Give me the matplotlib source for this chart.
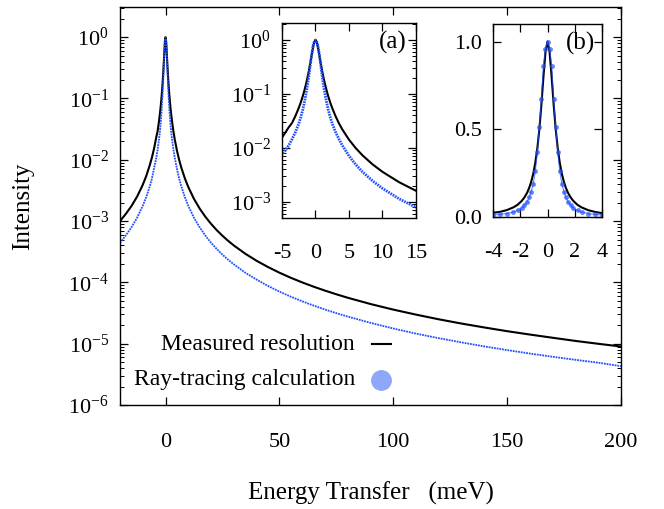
import matplotlib.pyplot as plt
from matplotlib.ticker import LogLocator, NullLocator, FixedLocator

plt.rcParams['font.family'] = ['Liberation Serif', 'DejaVu Serif']
plt.rcParams['mathtext.fontset'] = 'custom'
plt.rcParams['mathtext.rm'] = 'Liberation Serif'
plt.rcParams['mathtext.it'] = 'Liberation Serif:italic'
plt.rcParams['axes.unicode_minus'] = False

# energy transfer (meV)
energy = [-20, -17.5, -15, -12.5, -10, -8.5, -7, -6, -5, -4, -3.5, -3, -2.5,
          -2.2, -1.9, -1.7, -1.5, -1.35, -1.2, -1.05, -0.9, -0.75, -0.6,
          -0.45, -0.3, -0.15, 0, 0.15, 0.3, 0.45, 0.6, 0.75, 0.9, 1.05, 1.2,
          1.35, 1.5, 1.7, 1.9, 2.2, 2.5, 3, 3.5, 4, 5, 6, 7, 8.5, 10, 12.5,
          15, 17.5, 20, 22.5, 25, 27.5, 30, 35, 40, 45, 50, 55, 60, 65, 70,
          75, 80, 90, 100, 110, 120, 130, 140, 150, 160, 170, 180, 190, 200]

# measured resolution (black line)
measured = [1.0e-3, 1.3e-3, 1.75e-3, 2.5e-3, 3.9e-3, 5.4e-3, 8.0e-3, 1.08e-2,
            1.55e-2, 2.4e-2, 2.9e-2, 3.9e-2, 5.5e-2, 0.0695, 0.091, 0.111,
            0.138, 0.165, 0.200, 0.246, 0.308, 0.390, 0.500, 0.640, 0.800,
            0.941, 1.0, 0.941, 0.800, 0.640, 0.500, 0.390, 0.308, 0.246,
            0.200, 0.165, 0.138, 0.111, 0.0907, 0.0692, 0.0545, 0.0385,
            0.0285, 0.0220, 0.0142, 9.9e-3, 7.3e-3, 4.96e-3, 3.59e-3, 2.3e-3,
            1.6e-3, 1.175e-3, 9.0e-4, 7.11e-4, 5.76e-4, 4.76e-4, 4.0e-4,
            2.94e-4, 2.25e-4, 1.78e-4, 1.44e-4, 1.19e-4, 1.0e-4, 8.52e-5,
            7.35e-5, 6.4e-5, 5.62e-5, 4.44e-5, 3.6e-5, 2.98e-5, 2.5e-5,
            2.13e-5, 1.84e-5, 1.6e-5, 1.41e-5, 1.25e-5, 1.11e-5, 9.97e-6,
            9.0e-6]

# ray-tracing calculation (blue points)
raytrace = [4.4e-4, 5.8e-4, 7.9e-4, 1.13e-3, 1.77e-3, 2.45e-3, 3.6e-3,
            4.9e-3, 7.4e-3, 1.11e-2, 1.45e-2, 1.96e-2, 2.8e-2, 0.037, 0.051,
            0.066, 0.088, 0.112, 0.145, 0.19, 0.26, 0.37, 0.51, 0.67, 0.86,
            0.96, 1.0, 0.96, 0.86, 0.67, 0.51, 0.37, 0.26, 0.19, 0.145, 0.112,
            0.088, 0.066, 0.051, 0.037, 0.028, 0.0196, 0.0145, 0.0111, 7.1e-3,
            4.9e-3, 3.6e-3, 2.45e-3, 1.77e-3, 1.13e-3, 7.9e-4, 5.78e-4,
            4.43e-4, 3.5e-4, 2.83e-4, 2.34e-4, 1.97e-4, 1.44e-4, 1.11e-4,
            8.74e-5, 7.08e-5, 5.85e-5, 4.92e-5, 4.19e-5, 3.61e-5, 3.15e-5,
            2.77e-5, 2.19e-5, 1.77e-5, 1.46e-5, 1.23e-5, 1.05e-5, 9.03e-6,
            7.87e-6, 6.91e-6, 6.12e-6, 5.46e-6, 4.9e-6, 4.3e-6]

main_xticks = [0, 50, 100, 150, 200]
a_xticks = [-5, 0, 5, 10, 15]
b_xticks = [-4, -2, 0, 2, 4]
b_yticks = [0.0, 0.5, 1.0]
b_yticklabels = ['0.0', '0.5', '1.0']

BLUE = '#1f4fff'
LIGHT_BLUE = '#8fa7fa'


def style_axes(ax, size, xpad, ypad, major=6, minor=3):
    ax.tick_params(which='both', direction='in', top=True, right=True)
    ax.tick_params(which='major', length=major, width=0.9, labelsize=size)
    ax.tick_params(which='minor', length=minor, width=0.7)
    ax.tick_params(axis='x', pad=xpad)
    ax.tick_params(axis='y', pad=ypad)
    for s in ax.spines.values():
        s.set_linewidth(1.0)


fig = plt.figure(figsize=(6.64, 5.09), dpi=100)

# main panel
ax = fig.add_axes([0.1807, 0.2043, 0.7545, 0.7819])
ax.plot(energy, measured, color='black', lw=1.5)
ax.plot(energy, raytrace, color=BLUE, lw=1.3, ls=(0, (1, 0.5)))
ax.set_yscale('log')
ax.set_xlim(-20, 200)
ax.set_ylim(1e-6, 3.1)
ax.xaxis.set_major_locator(FixedLocator(main_xticks))
ax.xaxis.set_minor_locator(NullLocator())
ax.yaxis.set_major_locator(LogLocator(base=10, numticks=12))
ax.yaxis.set_minor_locator(LogLocator(base=10, subs=range(2, 10), numticks=12))
style_axes(ax, 16, 20, 8)
ax.set_ylabel('Intensity', fontsize=18)
ax.yaxis.set_label_coords(-0.172, 0.5)
ax.set_xlabel('Energy Transfer   (meV)', fontsize=18)
ax.xaxis.set_label_coords(0.5, -0.193)

# legend drawn by hand: text right-aligned, handle after it
ax.text(0.469, 0.153, 'Measured resolution', transform=ax.transAxes,
        ha='right', va='center', fontsize=17)
ax.text(0.469, 0.063, 'Ray-tracing calculation', transform=ax.transAxes,
        ha='right', va='center', fontsize=17)
ax.plot([0.503, 0.541], [0.153, 0.153], color='black', lw=1.5,
        transform=ax.transAxes)
ax.plot([0.521], [0.063], marker='o', ms=14, color=LIGHT_BLUE, mec=LIGHT_BLUE,
        transform=ax.transAxes)

# inset (a): log scale
axa = fig.add_axes([0.4247, 0.5717, 0.2018, 0.3831])
axa.plot(energy, measured, color='black', lw=1.5)
axa.plot(energy, raytrace, color=BLUE, lw=2.0, ls=(0, (0.6, 0.35)))
axa.set_yscale('log')
axa.set_xlim(-5, 15)
axa.set_ylim(5e-4, 2.07)
axa.xaxis.set_major_locator(FixedLocator(a_xticks))
axa.xaxis.set_minor_locator(NullLocator())
axa.yaxis.set_major_locator(LogLocator(base=10, numticks=12))
axa.yaxis.set_minor_locator(LogLocator(base=10, subs=range(2, 10), numticks=12))
style_axes(axa, 16, 19, 8)
axa.text(0.83, 0.90, '(a)', transform=axa.transAxes, ha='center',
         va='center', fontsize=18)

# inset (b): linear scale
axb = fig.add_axes([0.7425, 0.5737, 0.1642, 0.3792])
axb.plot(energy, measured, color='black', lw=1.5)
axb.plot(energy, raytrace, color=BLUE, lw=0.8, alpha=0.7, marker='o', ms=3.5,
         mec='none')
axb.set_xlim(-4, 4)
axb.set_ylim(0, 1.1)
axb.set_xticks(b_xticks)
axb.set_yticks(b_yticks)
axb.set_yticklabels(b_yticklabels)
style_axes(axb, 16, 19, 8)
axb.text(0.80, 0.90, '(b)', transform=axb.transAxes, ha='center',
         va='center', fontsize=18)

fig.savefig('out.png', dpi=100)
